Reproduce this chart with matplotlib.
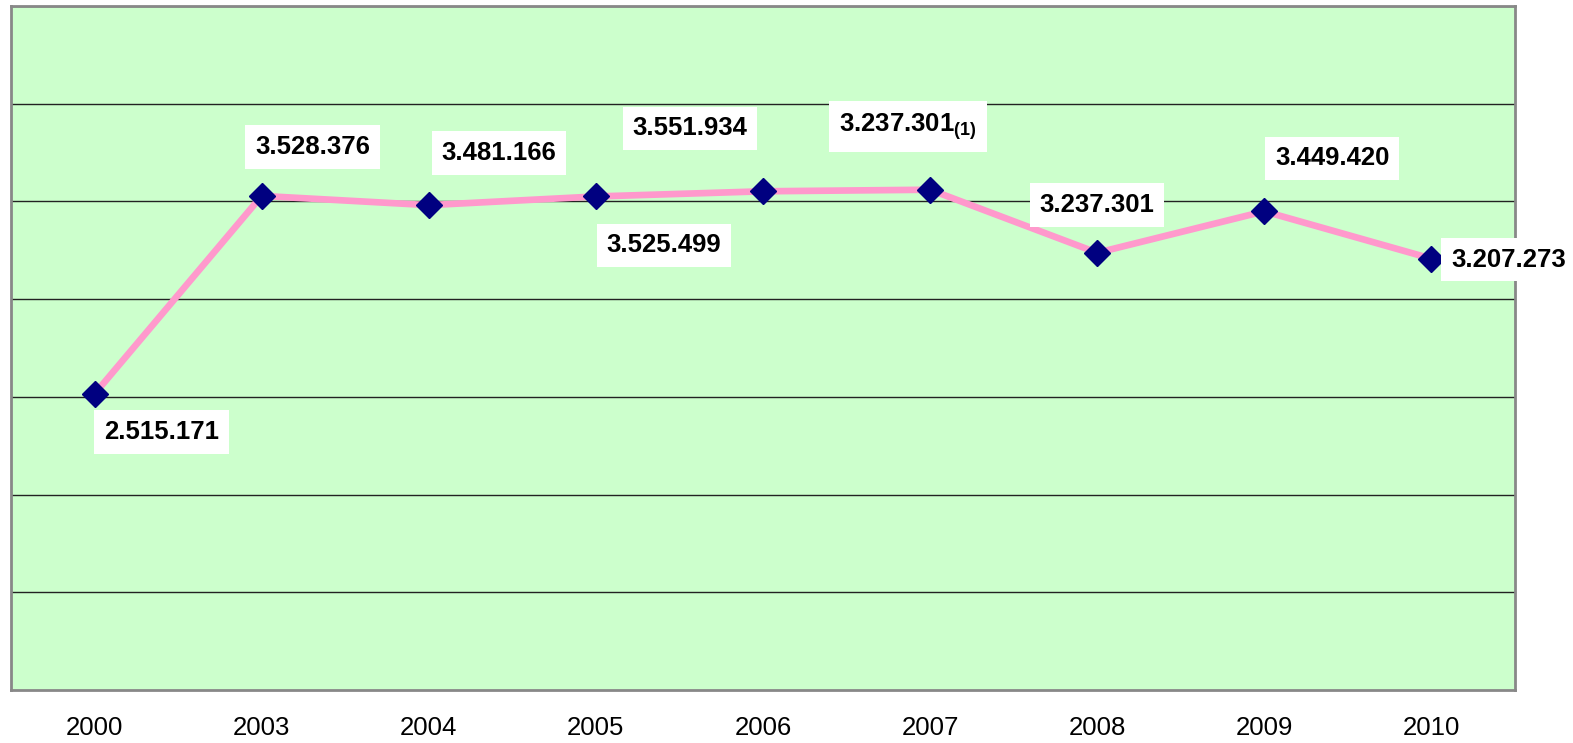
import matplotlib.pyplot as plt

# categories (years) and values
years = ["2000", "2003", "2004", "2005", "2006", "2007", "2008", "2009", "2010"]
values = [2515171, 3528376, 3481166, 3525499, 3551934, 3560000, 3237301,
          3449420, 3207273]
labels = ["2.515.171", "3.528.376", "3.481.166", "3.525.499", "3.551.934",
          r"3.237.301$_{\mathbf{(1)}}$", "3.237.301", "3.449.420",
          "3.207.273"]
# offset of each label from its point, in pixels
offsets = [(67, -38), (51, 49), (70, 52), (68, -49), (-73, 63), (-22, 63),
           (0, 48), (68, 53), (77, -1)]


def draw_chart():
    """Draws the line chart and saves it as out.png"""
    plt.rcParams["font.family"] = ["Liberation Sans", "DejaVu Sans"]
    plt.rcParams["mathtext.fontset"] = "custom"
    plt.rcParams["mathtext.bf"] = "Liberation Sans:bold"
    plt.rcParams["mathtext.rm"] = "Liberation Sans"

    fig = plt.figure(figsize=(15.73, 7.43), dpi=100)
    ax = fig.add_axes([0.007, 0.0713, 0.9561, 0.9206])
    ax.set_facecolor("#CCFFCC")

    x = [i + 0.5 for i in range(len(years))]
    ax.plot(x, values, color="#FF99CC", linewidth=4.8, zorder=3)
    ax.plot(x, values, linestyle="none", marker="D", markersize=13.5,
            color="#000080", zorder=4)

    # etiquettes blanches en gras
    for xi, yi, lab, (dx, dy) in zip(x, values, labels, offsets):
        ax.annotate(lab, (xi, yi), xytext=(dx, dy),
                    textcoords="offset pixels", ha="center", va="center",
                    fontsize=18.5, fontweight="bold", zorder=5,
                    bbox=dict(boxstyle="square,pad=0.38", fc="white",
                              ec="none"))

    ax.set_xlim(0, len(years))
    ax.set_ylim(1000000, 4500000)
    ax.set_yticks(range(1500000, 4500001, 500000))
    ax.set_yticklabels([])
    ax.tick_params(axis="y", length=0)
    ax.grid(axis="y", color="#222222", linewidth=1.0, zorder=1)
    ax.set_axisbelow(True)

    ax.set_xticks(x)
    ax.set_xticklabels(years, fontsize=18.5)
    ax.tick_params(axis="x", length=0, pad=19)

    for spine in ax.spines.values():
        spine.set_color("#888888")
        spine.set_linewidth(2)

    fig.savefig("out.png", dpi=100)


if __name__ == "__main__":
    draw_chart()
